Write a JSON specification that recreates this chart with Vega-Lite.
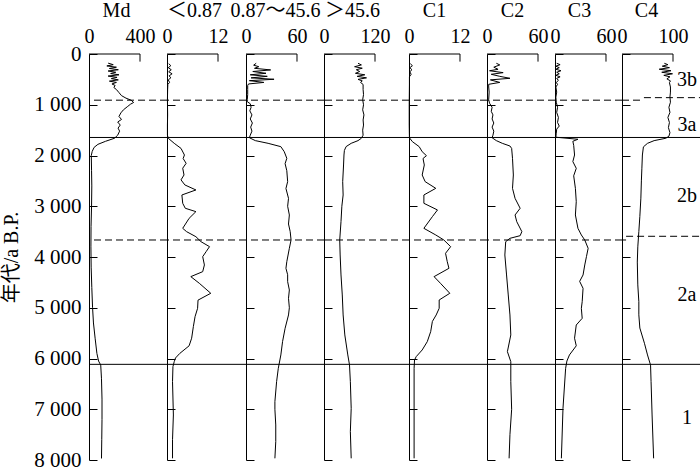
{
"$schema":"https://vega.github.io/schema/vega-lite/v6.json",
"padding":{"left":1,"top":0,"right":0,"bottom":0},
"bounds":"flush",
"spacing":0,
"config":{"view":{"stroke":null},"font":"Liberation Serif",
"axis":{"labelFont":"Liberation Serif, Noto Sans CJK SC","titleFont":"Liberation Serif, Noto Sans CJK SC","labelColor":"black","titleColor":"black","domainColor":"black","tickColor":"black","titleFontWeight":"normal","labelFontSize":20,"titleFontSize":20,"domainWidth":1,"tickWidth":1,"grid":false,"labelFlush":false,"labelOverlap":false,"labelBound":false}},
"datasets":{
"md":[{"age":180,"v":150},{"age":210,"v":190},{"age":235,"v":140},{"age":260,"v":215},{"age":285,"v":160},{"age":310,"v":230},{"age":335,"v":150},{"age":360,"v":210},{"age":385,"v":170},{"age":410,"v":235},{"age":435,"v":150},{"age":460,"v":220},{"age":485,"v":175},{"age":510,"v":230},{"age":535,"v":160},{"age":560,"v":215},{"age":590,"v":180},{"age":620,"v":205},{"age":660,"v":195},{"age":700,"v":215},{"age":760,"v":235},{"age":820,"v":255},{"age":870,"v":290},{"age":910,"v":330},{"age":955,"v":350},{"age":990,"v":325},{"age":1040,"v":300},{"age":1100,"v":270},{"age":1160,"v":250},{"age":1230,"v":235},{"age":1290,"v":255},{"age":1340,"v":225},{"age":1400,"v":245},{"age":1460,"v":228},{"age":1520,"v":240},{"age":1600,"v":225},{"age":1660,"v":200},{"age":1720,"v":130},{"age":1780,"v":70},{"age":1840,"v":40},{"age":1920,"v":25},{"age":2000,"v":18},{"age":2300,"v":20},{"age":2600,"v":22},{"age":3000,"v":20},{"age":3400,"v":16},{"age":3800,"v":15},{"age":4200,"v":17},{"age":4600,"v":22},{"age":5000,"v":28},{"age":5300,"v":35},{"age":5600,"v":48},{"age":5900,"v":62},{"age":6050,"v":75},{"age":6130,"v":92},{"age":6400,"v":98},{"age":6800,"v":102},{"age":7200,"v":102},{"age":7600,"v":100},{"age":7970,"v":98}],
"lt":[{"age":190,"v":0.4},{"age":230,"v":0.9},{"age":270,"v":0.3},{"age":310,"v":1.0},{"age":350,"v":0.4},{"age":390,"v":1.2},{"age":430,"v":0.5},{"age":470,"v":0.9},{"age":510,"v":0.3},{"age":560,"v":0.6},{"age":600,"v":0.2},{"age":700,"v":0.15},{"age":900,"v":0.1},{"age":1200,"v":0.15},{"age":1400,"v":0.1},{"age":1600,"v":0.1},{"age":1660,"v":0.3},{"age":1760,"v":1.7},{"age":1860,"v":3.3},{"age":1990,"v":4.1},{"age":2060,"v":3.8},{"age":2154,"v":4.5},{"age":2250,"v":3.7},{"age":2384,"v":4.0},{"age":2480,"v":3.3},{"age":2580,"v":4.2},{"age":2679,"v":6.8},{"age":2778,"v":3.5},{"age":2942,"v":3.7},{"age":3040,"v":4.3},{"age":3106,"v":6.8},{"age":3238,"v":5.2},{"age":3435,"v":3.7},{"age":3500,"v":4.6},{"age":3600,"v":6.8},{"age":3698,"v":8.0},{"age":3796,"v":10.0},{"age":3895,"v":9.2},{"age":3993,"v":8.4},{"age":4157,"v":8.8},{"age":4289,"v":8.4},{"age":4387,"v":5.6},{"age":4518,"v":7.6},{"age":4715,"v":10.3},{"age":4850,"v":7.3},{"age":5011,"v":7.2},{"age":5175,"v":6.6},{"age":5372,"v":6.2},{"age":5600,"v":5.8},{"age":5750,"v":5.2},{"age":5900,"v":3.0},{"age":5990,"v":2.0},{"age":6062,"v":1.7},{"age":6160,"v":1.4},{"age":6456,"v":1.3},{"age":7113,"v":1.5},{"age":7600,"v":1.3},{"age":7967,"v":1.3}],
"mid":[{"age":183,"v":12},{"age":220,"v":9},{"age":250,"v":15},{"age":282,"v":10},{"age":314,"v":29},{"age":345,"v":8},{"age":380,"v":23.5},{"age":410,"v":5},{"age":440,"v":25},{"age":470,"v":6},{"age":498,"v":33},{"age":525,"v":4},{"age":560,"v":21},{"age":590,"v":3},{"age":620,"v":2},{"age":700,"v":2},{"age":800,"v":2},{"age":900,"v":1.5},{"age":940,"v":1.5},{"age":980,"v":5},{"age":1050,"v":6},{"age":1120,"v":4.5},{"age":1200,"v":7},{"age":1280,"v":5},{"age":1360,"v":7.5},{"age":1440,"v":5.5},{"age":1520,"v":7},{"age":1600,"v":5},{"age":1650,"v":4},{"age":1707,"v":11},{"age":1760,"v":26},{"age":1826,"v":41},{"age":1925,"v":45},{"age":2056,"v":48},{"age":2160,"v":46},{"age":2300,"v":48},{"age":2515,"v":49},{"age":2650,"v":47},{"age":2844,"v":50},{"age":3000,"v":49},{"age":3172,"v":51},{"age":3350,"v":50},{"age":3500,"v":52},{"age":3665,"v":53},{"age":3829,"v":51},{"age":4092,"v":48},{"age":4223,"v":47},{"age":4350,"v":49},{"age":4486,"v":49},{"age":4650,"v":51},{"age":4814,"v":50},{"age":5000,"v":51},{"age":5142,"v":50},{"age":5405,"v":46},{"age":5668,"v":43},{"age":5930,"v":41},{"age":6193,"v":38},{"age":6456,"v":36},{"age":6850,"v":34},{"age":7000,"v":34},{"age":7310,"v":35},{"age":7638,"v":35},{"age":7967,"v":34}],
"gt":[{"age":183,"v":80},{"age":215,"v":88},{"age":250,"v":72},{"age":280,"v":90},{"age":310,"v":76},{"age":345,"v":84},{"age":380,"v":74},{"age":410,"v":96},{"age":440,"v":78},{"age":470,"v":100},{"age":500,"v":80},{"age":530,"v":90},{"age":560,"v":86},{"age":600,"v":92},{"age":700,"v":92},{"age":800,"v":93},{"age":900,"v":91},{"age":1000,"v":93},{"age":1100,"v":91},{"age":1200,"v":94},{"age":1300,"v":92},{"age":1400,"v":93},{"age":1500,"v":91},{"age":1600,"v":92},{"age":1660,"v":88},{"age":1707,"v":80},{"age":1760,"v":64},{"age":1825,"v":52},{"age":1900,"v":48},{"age":1990,"v":47},{"age":2187,"v":46},{"age":2515,"v":44},{"age":2778,"v":45},{"age":3000,"v":42},{"age":3300,"v":40},{"age":3665,"v":37},{"age":3960,"v":38},{"age":4354,"v":40},{"age":4748,"v":43},{"age":5142,"v":45},{"age":5536,"v":49},{"age":5930,"v":56},{"age":6127,"v":60},{"age":6456,"v":62},{"age":6982,"v":64},{"age":7441,"v":62},{"age":7967,"v":64}],
"c1":[{"age":190,"v":0.3},{"age":230,"v":0.8},{"age":270,"v":0.2},{"age":310,"v":0.7},{"age":350,"v":0.2},{"age":400,"v":0.5},{"age":450,"v":0.1},{"age":600,"v":0.1},{"age":1000,"v":0.05},{"age":1400,"v":0.05},{"age":1650,"v":0.1},{"age":1727,"v":0.8},{"age":1826,"v":2.4},{"age":1925,"v":3.1},{"age":2003,"v":4.1},{"age":2060,"v":3.3},{"age":2187,"v":3.6},{"age":2384,"v":3.1},{"age":2515,"v":3.8},{"age":2647,"v":6.3},{"age":2778,"v":3.5},{"age":2942,"v":3.5},{"age":3073,"v":6.7},{"age":3205,"v":5.5},{"age":3435,"v":3.5},{"age":3566,"v":6.3},{"age":3665,"v":8.2},{"age":3796,"v":9.8},{"age":3927,"v":8.6},{"age":4092,"v":9.0},{"age":4223,"v":9.4},{"age":4387,"v":5.9},{"age":4518,"v":7.4},{"age":4715,"v":9.6},{"age":4847,"v":7.1},{"age":5011,"v":7.1},{"age":5142,"v":6.4},{"age":5270,"v":5.5},{"age":5471,"v":5.1},{"age":5668,"v":4.3},{"age":5832,"v":3.1},{"age":5963,"v":1.7},{"age":6029,"v":1.3},{"age":6193,"v":1.2},{"age":7000,"v":1.2},{"age":7967,"v":1.2}],
"c2":[{"age":183,"v":11},{"age":215,"v":15},{"age":260,"v":8},{"age":302,"v":13},{"age":330,"v":3},{"age":367,"v":19},{"age":400,"v":5},{"age":440,"v":15},{"age":479,"v":27},{"age":510,"v":4},{"age":560,"v":15},{"age":597,"v":2},{"age":650,"v":2},{"age":750,"v":2.5},{"age":900,"v":2},{"age":970,"v":3},{"age":1050,"v":6},{"age":1130,"v":5},{"age":1200,"v":7},{"age":1280,"v":6},{"age":1360,"v":8},{"age":1440,"v":6},{"age":1520,"v":8},{"age":1600,"v":7},{"age":1650,"v":6},{"age":1707,"v":11},{"age":1760,"v":18},{"age":1813,"v":27},{"age":1860,"v":29},{"age":2056,"v":30},{"age":2384,"v":31},{"age":2647,"v":30},{"age":2844,"v":33},{"age":3040,"v":39},{"age":3172,"v":33},{"age":3304,"v":35},{"age":3500,"v":41},{"age":3580,"v":39},{"age":3632,"v":27},{"age":3698,"v":22},{"age":3960,"v":21},{"age":4354,"v":23},{"age":4748,"v":25},{"age":5142,"v":27},{"age":5536,"v":28},{"age":5865,"v":24},{"age":6062,"v":28},{"age":6456,"v":28},{"age":7000,"v":29},{"age":7500,"v":27},{"age":7967,"v":26}],
"c3":[{"age":183,"v":2},{"age":210,"v":6},{"age":240,"v":1},{"age":270,"v":5},{"age":300,"v":1},{"age":330,"v":7},{"age":360,"v":2},{"age":390,"v":5},{"age":420,"v":1},{"age":450,"v":6},{"age":480,"v":2},{"age":520,"v":4},{"age":560,"v":1.5},{"age":600,"v":3},{"age":650,"v":1},{"age":750,"v":2},{"age":850,"v":1},{"age":950,"v":1.5},{"age":1050,"v":3},{"age":1150,"v":2},{"age":1250,"v":4},{"age":1350,"v":3},{"age":1420,"v":5},{"age":1480,"v":2},{"age":1560,"v":1.5},{"age":1640,"v":1},{"age":1680,"v":27},{"age":1720,"v":21},{"age":1800,"v":22},{"age":1990,"v":23},{"age":2120,"v":21},{"age":2253,"v":25},{"age":2400,"v":22},{"age":2647,"v":24},{"age":2910,"v":25},{"age":3172,"v":24},{"age":3435,"v":27},{"age":3566,"v":31},{"age":3665,"v":35},{"age":3829,"v":39},{"age":3993,"v":37},{"age":4157,"v":35},{"age":4354,"v":33},{"age":4480,"v":29},{"age":4617,"v":33},{"age":4880,"v":32},{"age":5011,"v":31},{"age":5208,"v":32},{"age":5340,"v":25},{"age":5600,"v":23},{"age":5750,"v":25},{"age":5930,"v":17},{"age":6050,"v":14},{"age":6193,"v":12.5},{"age":6982,"v":9.4},{"age":7967,"v":7.5}],
"c4":[{"age":183,"v":83},{"age":210,"v":90},{"age":240,"v":79},{"age":270,"v":93},{"age":300,"v":73},{"age":330,"v":96},{"age":360,"v":78},{"age":390,"v":99},{"age":420,"v":82},{"age":450,"v":94},{"age":490,"v":88},{"age":530,"v":95},{"age":564,"v":93},{"age":650,"v":95},{"age":750,"v":95},{"age":850,"v":94},{"age":950,"v":95},{"age":1050,"v":92},{"age":1150,"v":94},{"age":1250,"v":90},{"age":1350,"v":93},{"age":1450,"v":91},{"age":1550,"v":94},{"age":1620,"v":92},{"age":1660,"v":86},{"age":1707,"v":63},{"age":1760,"v":50},{"age":1830,"v":42},{"age":1990,"v":40},{"age":2250,"v":39},{"age":2500,"v":38},{"age":2840,"v":37},{"age":3200,"v":35},{"age":3500,"v":33},{"age":3800,"v":31},{"age":4100,"v":30},{"age":4550,"v":31},{"age":4880,"v":33},{"age":5140,"v":33},{"age":5400,"v":35},{"age":5700,"v":44},{"age":5930,"v":50},{"age":6130,"v":56},{"age":6456,"v":57},{"age":7113,"v":59},{"age":7967,"v":62}],
"solid":[{"age":1645},{"age":6115}],
"dashed":[{"age":910},{"age":3665}],
"dashed8":[{"age":910,"a":0,"b":43},{"age":860,"a":43,"b":155},{"age":3665,"a":0,"b":8},{"age":3592,"a":8,"b":155}],
"zones":[{"label":"3b","age":518},{"label":"3a","age":1405},{"label":"2b","age":2803},{"label":"2a","age":4755},{"label":"1","age":7179}],
"one":[{}]
},
"hconcat":[
{"width":78,"height":406,"layer":[
{"data":{"name":"md"},"mark":{"type":"line","color":"black","strokeWidth":1},"encoding":{"x":{"field":"v","type":"quantitative","title":"Md","scale":{"domain":[0,611.76],"nice":false,"zero":false},"axis":{"orient":"top","values":[0,400],"ticks":false,"domain":false,"labelPadding":8,"titleX":27,"titleAlign":"center","titleAnchor":null,"titlePadding":6}},"y":{"field":"age","type":"quantitative","title":"年代/a B.P.","scale":{"domain":[0,8000],"reverse":true,"nice":false,"zero":false},"axis":{"orient":"left","values":[0,1000,2000,3000,4000,5000,6000,7000,8000],"tickSize":-8,"labelPadding":16,"labelFontSize":21,"labelExpr":"replace(format(datum.value, ','), ',', ' ')","titlePadding":12}},"order":{"field":"age","type":"quantitative"}}},
{"data":{"name":"solid"},"mark":{"type":"rule","color":"black","strokeWidth":1},"encoding":{"y":{"field":"age","type":"quantitative","title":"年代/a B.P."}}},
{"data":{"name":"dashed"},"mark":{"type":"rule","color":"black","strokeWidth":1,"strokeDash":[7,4]},"encoding":{"y":{"field":"age","type":"quantitative","title":"年代/a B.P."}}},
{"data":{"name":"one"},"mark":{"type":"rule","color":"black","strokeWidth":1},"encoding":{"x":{"datum":0,"title":"Md"},"x2":{"datum":400},"y":{"datum":0,"title":"年代/a B.P."}}},
{"data":{"name":"one"},"mark":{"type":"rule","color":"black","strokeWidth":1},"encoding":{"x":{"datum":400,"title":"Md"},"y":{"datum":0,"title":"年代/a B.P."},"y2":{"datum":150}}}
]},
{"width":79,"height":406,"layer":[
{"data":{"name":"lt"},"mark":{"type":"line","color":"black","strokeWidth":1},"encoding":{"x":{"field":"v","type":"quantitative","title":"＜0.87","scale":{"domain":[0,18.588],"nice":false,"zero":false},"axis":{"orient":"top","values":[0,12],"ticks":false,"domain":false,"labelPadding":8,"titleX":27,"titleAlign":"center","titleAnchor":null,"titlePadding":6}},"y":{"field":"age","type":"quantitative","title":null,"scale":{"domain":[0,8000],"reverse":true,"nice":false,"zero":false},"axis":{"orient":"left","values":[0,1000,2000,3000,4000,5000,6000,7000,8000],"tickSize":-8,"labels":false}},"order":{"field":"age","type":"quantitative"}}},
{"data":{"name":"solid"},"mark":{"type":"rule","color":"black","strokeWidth":1},"encoding":{"y":{"field":"age","type":"quantitative","title":null}}},
{"data":{"name":"dashed"},"mark":{"type":"rule","color":"black","strokeWidth":1,"strokeDash":[7,4]},"encoding":{"y":{"field":"age","type":"quantitative","title":null}}},
{"data":{"name":"one"},"mark":{"type":"rule","color":"black","strokeWidth":1},"encoding":{"x":{"datum":0,"title":"＜0.87"},"x2":{"datum":12},"y":{"datum":0,"title":null}}},
{"data":{"name":"one"},"mark":{"type":"rule","color":"black","strokeWidth":1},"encoding":{"x":{"datum":12,"title":"＜0.87"},"y":{"datum":0,"title":null},"y2":{"datum":150}}}
]},
{"width":78,"height":406,"layer":[
{"data":{"name":"mid"},"mark":{"type":"line","color":"black","strokeWidth":1},"encoding":{"x":{"field":"v","type":"quantitative","title":"0.87～45.6","scale":{"domain":[0,91.765],"nice":false,"zero":false},"axis":{"orient":"top","values":[0,60],"ticks":false,"domain":false,"labelPadding":8,"titleX":29,"titleAlign":"center","titleAnchor":null,"titlePadding":6}},"y":{"field":"age","type":"quantitative","title":null,"scale":{"domain":[0,8000],"reverse":true,"nice":false,"zero":false},"axis":{"orient":"left","values":[0,1000,2000,3000,4000,5000,6000,7000,8000],"tickSize":-8,"labels":false}},"order":{"field":"age","type":"quantitative"}}},
{"data":{"name":"solid"},"mark":{"type":"rule","color":"black","strokeWidth":1},"encoding":{"y":{"field":"age","type":"quantitative","title":null}}},
{"data":{"name":"dashed"},"mark":{"type":"rule","color":"black","strokeWidth":1,"strokeDash":[7,4]},"encoding":{"y":{"field":"age","type":"quantitative","title":null}}},
{"data":{"name":"one"},"mark":{"type":"rule","color":"black","strokeWidth":1},"encoding":{"x":{"datum":0,"title":"0.87～45.6"},"x2":{"datum":60},"y":{"datum":0,"title":null}}},
{"data":{"name":"one"},"mark":{"type":"rule","color":"black","strokeWidth":1},"encoding":{"x":{"datum":60,"title":"0.87～45.6"},"y":{"datum":0,"title":null},"y2":{"datum":150}}}
]},
{"width":85,"height":406,"layer":[
{"data":{"name":"gt"},"mark":{"type":"line","color":"black","strokeWidth":1},"encoding":{"x":{"field":"v","type":"quantitative","title":"＞45.6","scale":{"domain":[0,200],"nice":false,"zero":false},"axis":{"orient":"top","values":[0,120],"ticks":false,"domain":false,"labelPadding":8,"titleX":28,"titleAlign":"center","titleAnchor":null,"titlePadding":6}},"y":{"field":"age","type":"quantitative","title":null,"scale":{"domain":[0,8000],"reverse":true,"nice":false,"zero":false},"axis":{"orient":"left","values":[0,1000,2000,3000,4000,5000,6000,7000,8000],"tickSize":-8,"labels":false}},"order":{"field":"age","type":"quantitative"}}},
{"data":{"name":"solid"},"mark":{"type":"rule","color":"black","strokeWidth":1},"encoding":{"y":{"field":"age","type":"quantitative","title":null}}},
{"data":{"name":"dashed"},"mark":{"type":"rule","color":"black","strokeWidth":1,"strokeDash":[7,4]},"encoding":{"y":{"field":"age","type":"quantitative","title":null}}},
{"data":{"name":"one"},"mark":{"type":"rule","color":"black","strokeWidth":1},"encoding":{"x":{"datum":0,"title":"＞45.6"},"x2":{"datum":120},"y":{"datum":0,"title":null}}},
{"data":{"name":"one"},"mark":{"type":"rule","color":"black","strokeWidth":1},"encoding":{"x":{"datum":120,"title":"＞45.6"},"y":{"datum":0,"title":null},"y2":{"datum":150}}}
]},
{"width":78,"height":406,"layer":[
{"data":{"name":"c1"},"mark":{"type":"line","color":"black","strokeWidth":1},"encoding":{"x":{"field":"v","type":"quantitative","title":"C1","scale":{"domain":[0,18.353],"nice":false,"zero":false},"axis":{"orient":"top","values":[0,12],"ticks":false,"domain":false,"labelPadding":8,"titleX":25,"titleAlign":"center","titleAnchor":null,"titlePadding":6}},"y":{"field":"age","type":"quantitative","title":null,"scale":{"domain":[0,8000],"reverse":true,"nice":false,"zero":false},"axis":{"orient":"left","values":[0,1000,2000,3000,4000,5000,6000,7000,8000],"tickSize":-8,"labels":false}},"order":{"field":"age","type":"quantitative"}}},
{"data":{"name":"solid"},"mark":{"type":"rule","color":"black","strokeWidth":1},"encoding":{"y":{"field":"age","type":"quantitative","title":null}}},
{"data":{"name":"dashed"},"mark":{"type":"rule","color":"black","strokeWidth":1,"strokeDash":[7,4]},"encoding":{"y":{"field":"age","type":"quantitative","title":null}}},
{"data":{"name":"one"},"mark":{"type":"rule","color":"black","strokeWidth":1},"encoding":{"x":{"datum":0,"title":"C1"},"x2":{"datum":12},"y":{"datum":0,"title":null}}},
{"data":{"name":"one"},"mark":{"type":"rule","color":"black","strokeWidth":1},"encoding":{"x":{"datum":12,"title":"C1"},"y":{"datum":0,"title":null},"y2":{"datum":150}}}
]},
{"width":68,"height":406,"layer":[
{"data":{"name":"c2"},"mark":{"type":"line","color":"black","strokeWidth":1},"encoding":{"x":{"field":"v","type":"quantitative","title":"C2","scale":{"domain":[0,80],"nice":false,"zero":false},"axis":{"orient":"top","values":[0,60],"ticks":false,"domain":false,"labelPadding":8,"titleX":25,"titleAlign":"center","titleAnchor":null,"titlePadding":6}},"y":{"field":"age","type":"quantitative","title":null,"scale":{"domain":[0,8000],"reverse":true,"nice":false,"zero":false},"axis":{"orient":"left","values":[0,1000,2000,3000,4000,5000,6000,7000,8000],"tickSize":-8,"labels":false}},"order":{"field":"age","type":"quantitative"}}},
{"data":{"name":"solid"},"mark":{"type":"rule","color":"black","strokeWidth":1},"encoding":{"y":{"field":"age","type":"quantitative","title":null}}},
{"data":{"name":"dashed"},"mark":{"type":"rule","color":"black","strokeWidth":1,"strokeDash":[7,4]},"encoding":{"y":{"field":"age","type":"quantitative","title":null}}},
{"data":{"name":"one"},"mark":{"type":"rule","color":"black","strokeWidth":1},"encoding":{"x":{"datum":0,"title":"C2"},"x2":{"datum":60},"y":{"datum":0,"title":null}}},
{"data":{"name":"one"},"mark":{"type":"rule","color":"black","strokeWidth":1},"encoding":{"x":{"datum":60,"title":"C2"},"y":{"datum":0,"title":null},"y2":{"datum":150}}}
]},
{"width":67,"height":406,"layer":[
{"data":{"name":"c3"},"mark":{"type":"line","color":"black","strokeWidth":1},"encoding":{"x":{"field":"v","type":"quantitative","title":"C3","scale":{"domain":[0,78.824],"nice":false,"zero":false},"axis":{"orient":"top","values":[0,60],"ticks":false,"domain":false,"labelPadding":8,"titleX":24,"titleAlign":"center","titleAnchor":null,"titlePadding":6}},"y":{"field":"age","type":"quantitative","title":null,"scale":{"domain":[0,8000],"reverse":true,"nice":false,"zero":false},"axis":{"orient":"left","values":[0,1000,2000,3000,4000,5000,6000,7000,8000],"tickSize":-8,"labels":false}},"order":{"field":"age","type":"quantitative"}}},
{"data":{"name":"solid"},"mark":{"type":"rule","color":"black","strokeWidth":1},"encoding":{"y":{"field":"age","type":"quantitative","title":null}}},
{"data":{"name":"dashed"},"mark":{"type":"rule","color":"black","strokeWidth":1,"strokeDash":[7,4]},"encoding":{"y":{"field":"age","type":"quantitative","title":null}}},
{"data":{"name":"one"},"mark":{"type":"rule","color":"black","strokeWidth":1},"encoding":{"x":{"datum":0,"title":"C3"},"x2":{"datum":60},"y":{"datum":0,"title":null}}},
{"data":{"name":"one"},"mark":{"type":"rule","color":"black","strokeWidth":1},"encoding":{"x":{"datum":60,"title":"C3"},"y":{"datum":0,"title":null},"y2":{"datum":150}}}
]},
{"width":79,"height":406,"layer":[
{"data":{"name":"c4"},"mark":{"type":"line","color":"black","strokeWidth":1},"encoding":{"x":{"field":"v","type":"quantitative","title":"C4","scale":{"domain":[0,154.9],"nice":false,"zero":false},"axis":{"orient":"top","values":[0,100],"ticks":false,"domain":false,"labelPadding":8,"titleX":24,"titleAlign":"center","titleAnchor":null,"titlePadding":6}},"y":{"field":"age","type":"quantitative","title":null,"scale":{"domain":[0,8000],"reverse":true,"nice":false,"zero":false},"axis":{"orient":"left","values":[0,1000,2000,3000,4000,5000,6000,7000,8000],"tickSize":-8,"labels":false}},"order":{"field":"age","type":"quantitative"}}},
{"data":{"name":"solid"},"mark":{"type":"rule","color":"black","strokeWidth":1},"encoding":{"y":{"field":"age","type":"quantitative","title":null}}},
{"data":{"name":"dashed8"},"mark":{"type":"rule","color":"black","strokeWidth":1,"strokeDash":[7,4]},"encoding":{"y":{"field":"age","type":"quantitative","title":null},"x":{"field":"a","type":"quantitative","title":"C4"},"x2":{"field":"b"}}},
{"data":{"name":"one"},"mark":{"type":"rule","color":"black","strokeWidth":1},"encoding":{"x":{"datum":0,"title":"C4"},"x2":{"datum":100},"y":{"datum":0,"title":null}}},
{"data":{"name":"one"},"mark":{"type":"rule","color":"black","strokeWidth":1},"encoding":{"x":{"datum":100,"title":"C4"},"y":{"datum":0,"title":null},"y2":{"datum":150}}},
{"data":{"name":"zones"},"mark":{"type":"text","color":"black","fontSize":20,"font":"Liberation Serif","align":"center","baseline":"middle"},"encoding":{"x":{"datum":127.5,"title":"C4"},"y":{"field":"age","type":"quantitative","title":null},"text":{"field":"label"}}}
]}
]
}
